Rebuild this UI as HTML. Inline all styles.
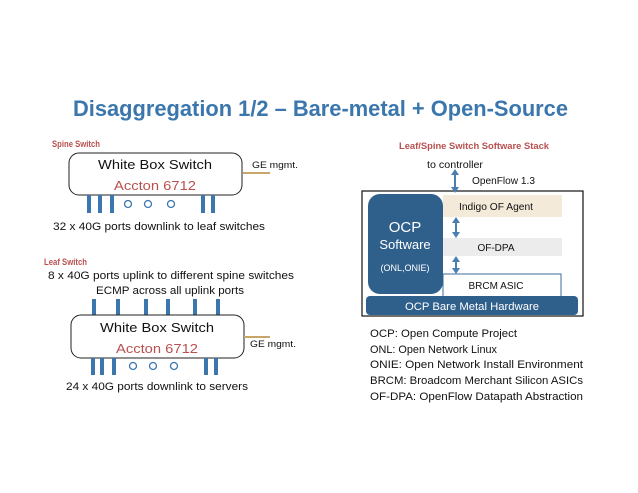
<!DOCTYPE html>
<html><head><meta charset="utf-8"><style>
html,body{margin:0;padding:0;background:#fff;}
svg{display:block;font-family:"Liberation Sans",sans-serif;}
</style></head><body>
<svg width="638" height="493" viewBox="0 0 638 493" xmlns="http://www.w3.org/2000/svg">
<text x="73" y="116" font-size="22" font-weight="bold" fill="#3b77ad" textLength="495" lengthAdjust="spacingAndGlyphs">Disaggregation 1/2 – Bare-metal + Open-Source</text>

<!-- Spine -->
<text x="52" y="147" font-size="9" font-weight="bold" fill="#b9504f" textLength="48" lengthAdjust="spacingAndGlyphs">Spine Switch</text>
<rect x="69" y="153" width="173" height="42" rx="10" fill="#fff" stroke="#222" stroke-width="1"/>
<text x="155" y="169" font-size="13" text-anchor="middle" fill="#111" textLength="114" lengthAdjust="spacingAndGlyphs">White Box Switch</text>
<text x="155" y="190" font-size="13" text-anchor="middle" fill="#b9504f" textLength="82" lengthAdjust="spacingAndGlyphs">Accton 6712</text>
<line x1="243" y1="173" x2="270" y2="173" stroke="#c8a568" stroke-width="2"/>
<text x="252" y="168" font-size="9.5" fill="#111" textLength="46" lengthAdjust="spacingAndGlyphs">GE mgmt.</text>
<g stroke="#3b77ad" stroke-width="4">
<line x1="89" y1="195" x2="89" y2="213"/><line x1="100" y1="195" x2="100" y2="213"/><line x1="112" y1="195" x2="112" y2="213"/>
<line x1="203" y1="195" x2="203" y2="213"/><line x1="213" y1="195" x2="213" y2="213"/>
</g>
<g fill="none" stroke="#3b77ad" stroke-width="1.3">
<circle cx="128" cy="204" r="3.5"/><circle cx="148" cy="204" r="3.5"/><circle cx="171" cy="204" r="3.5"/>
</g>
<text x="53" y="230" font-size="11" fill="#111" textLength="212" lengthAdjust="spacingAndGlyphs">32 x 40G ports downlink to leaf switches</text>

<!-- Leaf -->
<text x="44" y="265" font-size="9" font-weight="bold" fill="#b9504f" textLength="43" lengthAdjust="spacingAndGlyphs">Leaf Switch</text>
<text x="48" y="279" font-size="11" fill="#111" textLength="246" lengthAdjust="spacingAndGlyphs">8 x 40G ports uplink to different spine switches</text>
<text x="96" y="294" font-size="11" fill="#111" textLength="148" lengthAdjust="spacingAndGlyphs">ECMP across all uplink ports</text>
<g stroke="#3b77ad" stroke-width="4">
<line x1="94" y1="299" x2="94" y2="315"/><line x1="118" y1="299" x2="118" y2="315"/><line x1="146" y1="299" x2="146" y2="315"/>
<line x1="168" y1="299" x2="168" y2="315"/><line x1="195" y1="299" x2="195" y2="315"/><line x1="218" y1="299" x2="218" y2="315"/>
</g>
<rect x="71" y="315" width="173" height="43" rx="10" fill="#fff" stroke="#222" stroke-width="1"/>
<text x="157" y="332" font-size="13" text-anchor="middle" fill="#111" textLength="114" lengthAdjust="spacingAndGlyphs">White Box Switch</text>
<text x="157" y="353" font-size="13" text-anchor="middle" fill="#b9504f" textLength="82" lengthAdjust="spacingAndGlyphs">Accton 6712</text>
<line x1="244" y1="337" x2="270" y2="337" stroke="#c8a568" stroke-width="2"/>
<text x="250" y="347" font-size="9.5" fill="#111" textLength="46" lengthAdjust="spacingAndGlyphs">GE mgmt.</text>
<g stroke="#3b77ad" stroke-width="4">
<line x1="93" y1="358" x2="93" y2="375"/><line x1="102" y1="358" x2="102" y2="375"/><line x1="114" y1="358" x2="114" y2="375"/>
<line x1="206" y1="358" x2="206" y2="375"/><line x1="216" y1="358" x2="216" y2="375"/>
</g>
<g fill="none" stroke="#3b77ad" stroke-width="1.3">
<circle cx="133" cy="366" r="3.5"/><circle cx="153" cy="366" r="3.5"/><circle cx="174" cy="366" r="3.5"/>
</g>
<text x="66" y="390" font-size="11" fill="#111" textLength="182" lengthAdjust="spacingAndGlyphs">24 x 40G ports downlink to servers</text>

<!-- Stack -->
<text x="399" y="149" font-size="9" font-weight="bold" fill="#b9504f" textLength="150" lengthAdjust="spacingAndGlyphs">Leaf/Spine Switch Software Stack</text>
<text x="427" y="168" font-size="10" fill="#111" textLength="56" lengthAdjust="spacingAndGlyphs">to controller</text>
<text x="472" y="184" font-size="10" fill="#111" textLength="63" lengthAdjust="spacingAndGlyphs">OpenFlow 1.3</text>
<rect x="362" y="191" width="221" height="125" fill="#fff" stroke="#111" stroke-width="1.2"/>
<rect x="443" y="195" width="119" height="22" fill="#f3ead9"/>
<text x="496" y="210" font-size="10" text-anchor="middle" fill="#111" textLength="74" lengthAdjust="spacingAndGlyphs">Indigo OF Agent</text>
<rect x="443" y="238" width="119" height="18" fill="#ececec"/>
<text x="496" y="251" font-size="10" text-anchor="middle" fill="#111">OF-DPA</text>
<rect x="443" y="274" width="118" height="24" fill="#fff" stroke="#3d6d98" stroke-width="1"/>
<text x="496" y="289" font-size="10" text-anchor="middle" fill="#111">BRCM ASIC</text>
<rect x="368" y="194" width="75" height="100" rx="12" fill="#2f5f8b"/>
<text x="405" y="232" font-size="15" text-anchor="middle" fill="#fff">OCP</text>
<text x="405" y="249" font-size="13" text-anchor="middle" fill="#fff">Software</text>
<text x="405" y="271" font-size="9" text-anchor="middle" fill="#fff">(ONL,ONIE)</text>
<rect x="366" y="296" width="212" height="19" rx="4" fill="#2f5f8b"/>
<text x="472" y="310" font-size="11" text-anchor="middle" fill="#fff" textLength="134" lengthAdjust="spacingAndGlyphs">OCP Bare Metal Hardware</text>
<g stroke="#4a7fb0" stroke-width="2" fill="#4a7fb0">
<line x1="455" y1="173" x2="455" y2="189"/><path d="M451,175 L455,169 L459,175Z M451,187 L455,193 L459,187Z" stroke="none"/>
<line x1="456" y1="221" x2="456" y2="234"/><path d="M452,223 L456,217 L460,223Z M452,232 L456,238 L460,232Z" stroke="none"/>
<line x1="456" y1="260" x2="456" y2="270"/><path d="M452,262 L456,256 L460,262Z M452,268 L456,274 L460,268Z" stroke="none"/>
</g>

<!-- legend -->
<g font-size="11" fill="#111">
<text x="370" y="337" textLength="147" lengthAdjust="spacingAndGlyphs">OCP: Open Compute Project</text>
<text x="370" y="353" textLength="127" lengthAdjust="spacingAndGlyphs">ONL: Open Network Linux</text>
<text x="370" y="368" textLength="213" lengthAdjust="spacingAndGlyphs">ONIE: Open Network Install Environment</text>
<text x="370" y="384" textLength="213" lengthAdjust="spacingAndGlyphs">BRCM: Broadcom Merchant Silicon ASICs</text>
<text x="370" y="400" textLength="213" lengthAdjust="spacingAndGlyphs">OF-DPA: OpenFlow Datapath Abstraction</text>
</g>
</svg>
</body></html>
